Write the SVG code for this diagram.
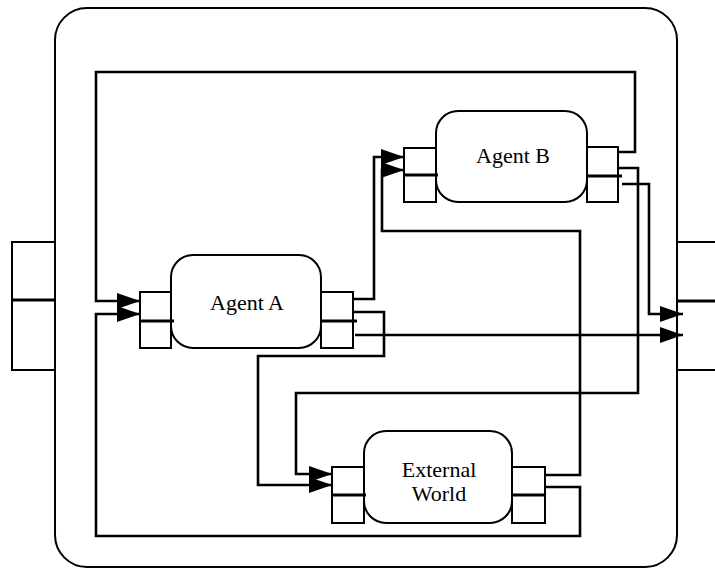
<svg xmlns="http://www.w3.org/2000/svg" width="715" height="572" viewBox="0 0 715 572">
<defs>
<style>
.box{fill:#fff;stroke:#000;stroke-width:2}
.port{fill:#fff;stroke:#000;stroke-width:2}
.div{fill:none;stroke:#000;stroke-width:3}
.wire{fill:none;stroke:#000;stroke-width:2.6;marker-end:url(#arr)}
.wire2{fill:none;stroke:#000;stroke-width:2.6}
.lbl{font-family:"Liberation Serif","Times New Roman",serif;font-size:22px;fill:#000;text-anchor:middle}
</style>
<marker id="arr" markerUnits="userSpaceOnUse" markerWidth="24" markerHeight="17" refX="23" refY="8" orient="auto">
<path d="M0,0 L23,8 L0,16 z" fill="#000"/>
</marker>
</defs>
<rect width="715" height="572" fill="#fff"/>
<g id="system">
<rect x="55" y="8" width="622" height="559" rx="32" fill="none" stroke="#000" stroke-width="2"/>
</g>
<g id="port-left">
<rect class="port" x="12" y="242" width="43" height="128"/>
<line x1="12" y1="300" x2="55" y2="300" stroke="#000" stroke-width="3"/>
</g>
<g id="port-right">
<rect class="port" x="677" y="242" width="45" height="128"/>
<line x1="677" y1="301" x2="715" y2="301" stroke="#000" stroke-width="3"/>
</g>
<g id="agent-a">
<rect class="box" x="171" y="255" width="150" height="93" rx="22"/>
<rect class="port" x="140" y="292" width="31" height="56"/>
<rect class="port" x="321" y="292" width="32" height="56"/>
<line class="div" x1="140" y1="321" x2="174" y2="321"/>
<line class="div" x1="320" y1="321" x2="357" y2="321"/>
<text class="lbl" x="247" y="310">Agent A</text>
</g>
<g id="agent-b">
<rect class="box" x="436" y="111" width="151" height="91" rx="22"/>
<rect class="port" x="404" y="148" width="32" height="54"/>
<rect class="port" x="587" y="147" width="31" height="55"/>
<line class="div" x1="404" y1="175" x2="438" y2="175"/>
<line class="div" x1="586" y1="176" x2="622" y2="176"/>
<text class="lbl" x="513" y="163">Agent B</text>
</g>
<g id="external-world">
<rect class="box" x="364" y="431" width="148" height="92" rx="22"/>
<rect class="port" x="332" y="467" width="32" height="56"/>
<rect class="port" x="512" y="467" width="33" height="56"/>
<line class="div" x1="332" y1="495" x2="366" y2="495"/>
<line class="div" x1="511" y1="495" x2="545" y2="495"/>
<text class="lbl" x="439" y="477">External</text>
<text class="lbl" x="439" y="501">World</text>
</g>
<g id="connectors">
<path class="wire" d="M618,152 H635 V72 H96 V301 H140"/>
<path class="wire" d="M545,487 H580 V536 H96 V314 H140"/>
<path class="wire" d="M353,299 H374 V157 H404"/>
<path class="wire" d="M353,312 H384 V356 H258 V485 H332"/>
<path class="wire" d="M355,335 H683"/>
<path class="wire" d="M618,168 H638 V393 H296 V474 H332"/>
<path class="wire" d="M622,184 H649 V314 H683"/>
<path class="wire" d="M545,475 H580 V231 H382 V170 H404"/>
</g>
</svg>
